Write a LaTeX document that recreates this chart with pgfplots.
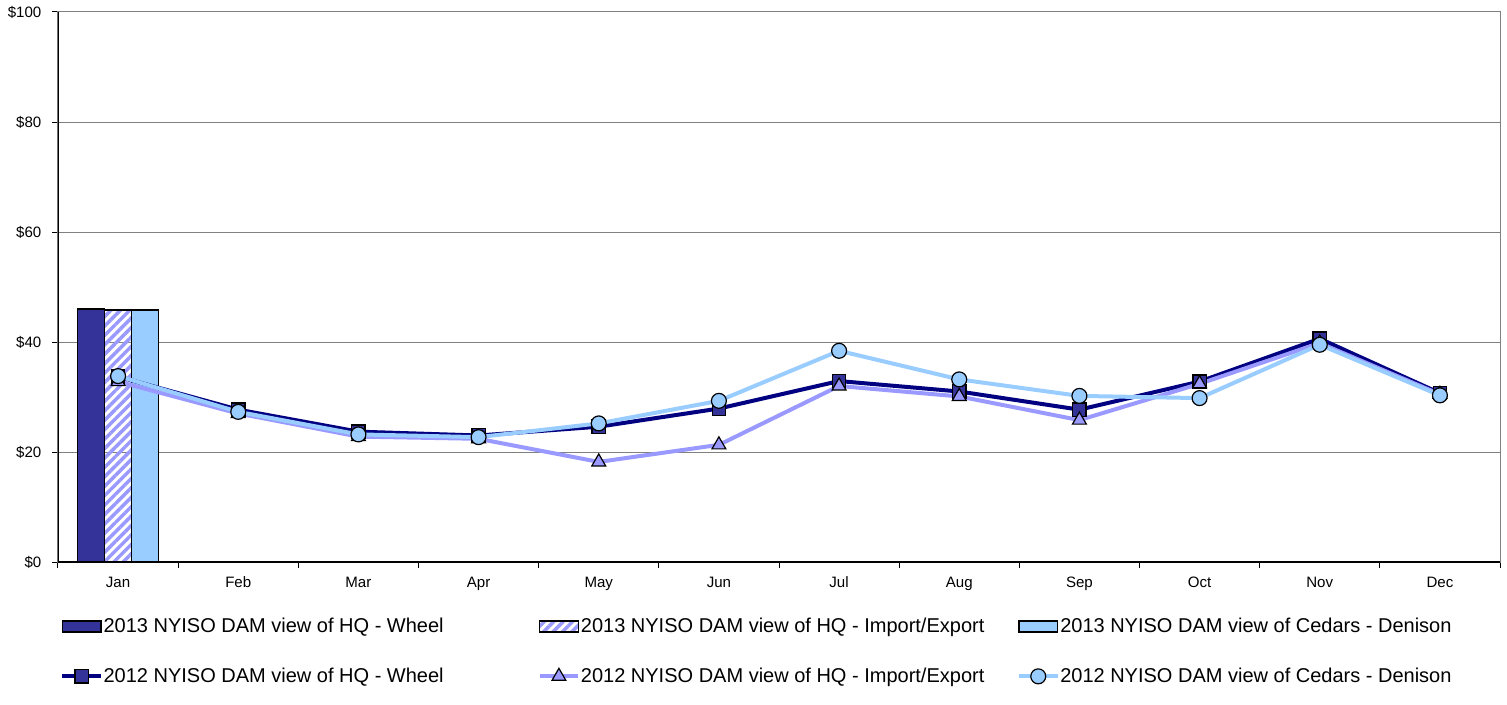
\documentclass[border=0pt]{standalone}
\usepackage{pgfplots}
\pgfplotsset{compat=1.18}
\usepackage{fontspec}
\setmainfont{Liberation Sans}
\usetikzlibrary{patterns.meta}
\definecolor{cwheel}{HTML}{333399}
\definecolor{cimp}{HTML}{9999FF}
\definecolor{cced}{HTML}{99CCFF}
\definecolor{cnavy}{HTML}{000080}
\pgfplotsset{
  barleg/.style={legend image code/.code={\draw[##1] (0pt,-4pt) rectangle (29pt,4pt);}},
  lineleg/.style={legend image code/.code={\draw[mark repeat=2,mark phase=2,##1] plot coordinates {(0pt,0pt) (14.5pt,0pt) (29pt,0pt)};}},
}
\begin{document}
\begin{tikzpicture}
\useasboundingbox (-43.5pt,-106.5pt) rectangle (1086.75pt,421.5pt);
\begin{axis}[
  at={(0,0)}, anchor=south west,
  scale only axis, width=1081.5pt, height=412.5pt,
  xmin=-0.5, xmax=11.5, ymin=0, ymax=100,
  xtick={-0.5,0.5,...,11.5}, x tick label as interval,
  xticklabels={Jan,Feb,Mar,Apr,May,Jun,Jul,Aug,Sep,Oct,Nov,Dec},
  ytick={0,20,40,60,80,100},
  yticklabels={\$0,\$20,\$40,\$60,\$80,\$100},
  tick align=outside, xtick pos=bottom, ytick pos=left,
  major tick length=4.5pt,
  tick style={black, line width=0.75pt},
  ymajorgrids, grid style={color=black!50, line width=0.75pt},
  axis line style={draw=black!50, line width=0.75pt},
  tick label style={font=\fontsize{11.3}{13}\selectfont},
  yticklabel style={xshift=-4.5pt},
  xticklabel style={yshift=-3pt},
  legend columns=3,
  legend style={at={(0,0)}, anchor=north west, xshift=1.5pt, yshift=-42pt,
    draw=none, fill=none, inner sep=0pt, row sep=25pt,
    font=\fontsize{15}{17}\selectfont,
    nodes={inner sep=0pt},
    /tikz/every odd column/.append style={column sep=0.5pt}},
  legend cell align=left,
]
\addplot[ybar, bar shift=0pt, bar width=0.225, draw=black, line width=1.1pt, fill=cwheel, barleg]
  coordinates {(-0.225,46.0)};
\addlegendentry{\makebox[325.5pt][l]{2013 NYISO DAM view of HQ - Wheel}}
\addplot[ybar, bar shift=0pt, bar width=0.225, draw=black, line width=1.1pt,
  fill=white, pattern={Lines[angle=45,distance=5pt,line width=2.6pt]}, pattern color=cimp, barleg]
  coordinates {(0,45.8)};
\addlegendentry{\makebox[327pt][l]{2013 NYISO DAM view of HQ - Import/Export}}
\addplot[ybar, bar shift=0pt, bar width=0.225, draw=black, line width=1.1pt, fill=cced, barleg]
  coordinates {(0.225,45.8)};
\addlegendentry{2013 NYISO DAM view of Cedars - Denison}
\addplot[cnavy, line width=3pt, mark=square*, mark size=5pt,
  mark options={fill=cwheel, draw=black, line width=0.9pt}, lineleg]
  coordinates {(0,33.7) (1,27.7) (2,23.7) (3,23.0) (4,24.6) (5,27.9) (6,32.9) (7,31.0) (8,27.7) (9,32.8) (10,40.6) (11,30.7)};
\addlegendentry{2012 NYISO DAM view of HQ - Wheel}
\addplot[cimp, line width=3pt, mark=triangle*, mark size=6pt,
  mark options={fill=cimp, draw=black, line width=0.9pt}, lineleg]
  coordinates {(0,32.8) (1,27.0) (2,22.8) (3,22.4) (4,18.2) (5,21.3) (6,32.0) (7,30.1) (8,25.8) (9,32.4) (10,39.8) (11,30.5)};
\addlegendentry{2012 NYISO DAM view of HQ - Import/Export}
\addplot[cced, line width=3pt, mark=*, mark size=5.6pt,
  mark options={fill=cced, draw=black, line width=0.9pt}, lineleg]
  coordinates {(0,33.8) (1,27.3) (2,23.2) (3,22.7) (4,25.2) (5,29.3) (6,38.4) (7,33.2) (8,30.2) (9,29.8) (10,39.5) (11,30.3)};
\addlegendentry{2012 NYISO DAM view of Cedars - Denison}
\draw[black, line width=0.9pt] (rel axis cs:0,1) -- (rel axis cs:0,0) -- (rel axis cs:1,0);
\end{axis}
\end{tikzpicture}
\end{document}
